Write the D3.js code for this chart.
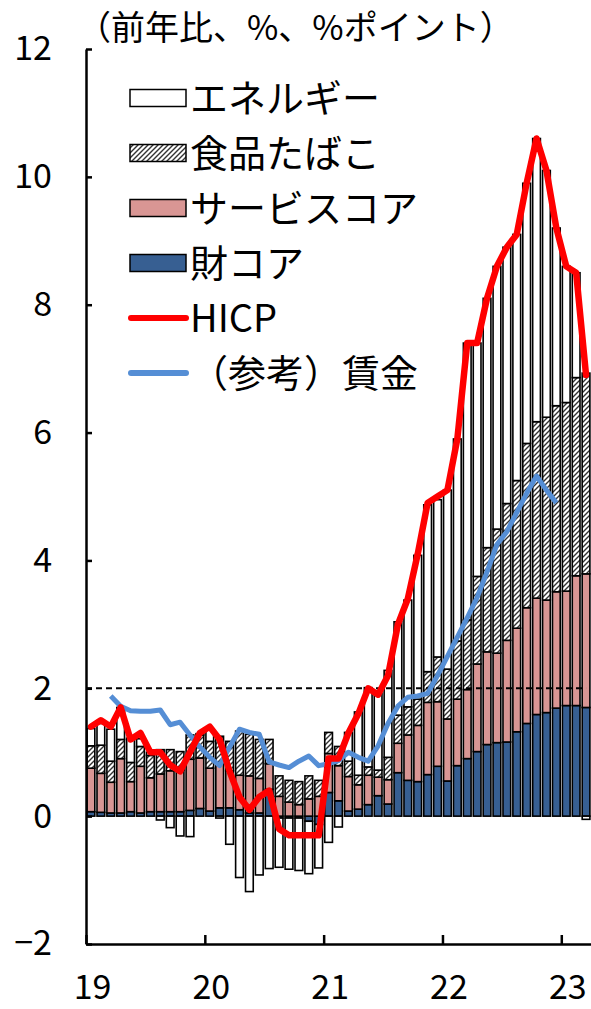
<!DOCTYPE html>
<html>
<head>
<meta charset="utf-8">
<script src="https://cdn.jsdelivr.net/npm/d3@7"></script>
<style>
  body { margin: 0; background: #fff; }
  text { font-family: "Noto Sans CJK JP", "Noto Sans", sans-serif; fill: #000; }
</style>
</head>
<body>
<div id="chart"></div>
<script>
// 2019/1 ～ 2023/3 の月次
const months = d3.timeMonth.range(new Date(2019, 0, 1), new Date(2023, 3, 1));
const yearLabels = ["19", "20", "21", "22", "23"];
const yTicks = [-2, 0, 2, 4, 6, 8, 10, 12];

// 寄与度（%ポイント）
const goodsCore = [
  0.07, 0.06, 0.05, 0.05, 0.07, 0.05, 0.07, 0.07, 0.07, 0.07, 0.09, 0.12,
  0.08, 0.13, 0.13, 0.10, 0.05, 0.05, 0.42, -0.03, -0.03, -0.03, -0.08, -0.13,
  0.37, 0.24, 0.08, 0.11, 0.18, 0.32, 0.19, 0.68, 0.56, 0.54, 0.65, 0.78,
  0.55, 0.79, 0.90, 1.01, 1.12, 1.15, 1.16, 1.32, 1.45, 1.59, 1.62, 1.69,
  1.73, 1.73, 1.70
];
const servicesCore = [
  0.68, 0.61, 0.48, 0.85, 0.47, 0.73, 0.53, 0.59, 0.64, 0.65, 0.80, 0.79,
  0.67, 0.72, 0.58, 0.54, 0.58, 0.54, 0.40, 0.31, 0.22, 0.18, 0.27, 0.31,
  0.61, 0.55, 0.54, 0.38, 0.46, 0.29, 0.38, 0.46, 0.71, 0.88, 1.13, 1.01,
  0.97, 1.04, 1.08, 1.37, 1.45, 1.40, 1.59, 1.62, 1.81, 1.82, 1.76, 1.82,
  1.79, 2.03, 2.09
];
const foodTobacco = [
  0.35, 0.44, 0.33, 0.30, 0.30, 0.31, 0.35, 0.38, 0.33, 0.29, 0.38, 0.36,
  0.42, 0.40, 0.46, 0.69, 0.65, 0.61, 0.38, 0.32, 0.34, 0.36, 0.36, 0.25,
  0.33, 0.30, 0.24, 0.15, 0.13, 0.11, 0.35, 0.44, 0.44, 0.41, 0.48, 0.70,
  0.78, 0.91, 1.09, 1.37, 1.63, 1.94, 2.14, 2.31, 2.57, 2.76, 2.86, 2.91,
  2.95, 3.10, 3.14
];
const energy = [
  0.27, 0.34, 0.50, 0.50, 0.38, 0.12, 0.05, -0.06, -0.18, -0.31, -0.32, 0.02,
  0.19, -0.03, -0.44, -0.96, -1.18, -0.92, -0.82, -0.77, -0.80, -0.82, -0.82, -0.68,
  -0.41, -0.17, 0.45, 0.99, 1.24, 1.20, 1.36, 1.46, 1.67, 2.25, 2.61, 2.46,
  2.80, 3.16, 4.33, 3.65, 3.90, 4.11, 4.01, 3.85, 4.07, 4.43, 3.86, 2.78,
  2.13, 1.64, -0.05
];
// 前年比（%）
const hicp = [
  1.4, 1.5, 1.4, 1.7, 1.2, 1.3, 1.0, 1.0, 0.8, 0.7, 1.0, 1.3,
  1.4, 1.2, 0.7, 0.3, 0.1, 0.3, 0.4, -0.2, -0.3, -0.3, -0.3, -0.3,
  0.9, 0.9, 1.3, 1.6, 2.0, 1.9, 2.2, 3.0, 3.4, 4.1, 4.9, 5.0,
  5.1, 5.9, 7.4, 7.4, 8.1, 8.6, 8.9, 9.1, 9.9, 10.6, 10.1, 9.2,
  8.6, 8.5, 6.9
];
const wages = [
  null, null, 1.88, 1.72, 1.65, 1.64, 1.64, 1.66, 1.43, 1.47, 1.27, 1.08,
  0.92, 0.79, 1.08, 1.36, 1.31, 1.28, 0.85, 0.80, 0.76, 0.86, 0.94, 0.79,
  0.82, 0.87, 1.00, 0.92, 0.86, 1.10, 1.45, 1.72, 1.86, 1.88, 1.92, 2.20,
  2.50, 2.80, 3.10, 3.42, 3.82, 4.25, 4.45, 4.75, 5.05, 5.32, 5.10, 4.90,
  null, null, null
];

const barKeys = ["goods", "services", "food", "energy"];
const legendItems = [
  { name: "エネルギー", type: "bar", key: "energy" },
  { name: "食品たばこ", type: "bar", key: "food" },
  { name: "サービスコア", type: "bar", key: "services" },
  { name: "財コア", type: "bar", key: "goods" },
  { name: "HICP", type: "line", color: "#ff0000" },
  { name: "（参考）賃金", type: "line", color: "#558ed5" }
];

function generateChart(width = 591, height = 1009) {
  const margin = { top: 49, right: 0, bottom: 65, left: 86 };
  const fills = {
    goods: "#375f92",
    services: "#d99694",
    food: "url(#hatch)",
    energy: "#ffffff"
  };

  document.getElementById("chart").innerHTML = "";
  const svg = d3
    .select("#chart")
    .append("svg")
    .attr("width", width)
    .attr("height", height);

  // 斜線パターン（食品たばこ）
  const pat = svg
    .append("defs")
    .append("pattern")
    .attr("id", "hatch")
    .attr("patternUnits", "userSpaceOnUse")
    .attr("width", 5)
    .attr("height", 5);
  pat.append("rect").attr("width", 5).attr("height", 5).attr("fill", "#fff");
  pat
    .append("path")
    .attr("d", "M-1,1 l2,-2 M0,5 l5,-5 M4,6 l2,-2")
    .attr("stroke", "#333")
    .attr("stroke-width", 1.4);

  const data = months.map((m, i) => ({
    date: m,
    goods: goodsCore[i],
    services: servicesCore[i],
    food: foodTobacco[i],
    energy: energy[i],
    hicp: hicp[i],
    wage: wages[i]
  }));

  const x = d3
    .scaleBand()
    .domain(d3.range(months.length))
    .range([margin.left, width - margin.right])
    .paddingInner(0.22)
    .paddingOuter(0.11);
  const xm = d3
    .scaleLinear()
    .domain([0, months.length])
    .range([margin.left, width - margin.right]);
  const y = d3
    .scaleLinear()
    .domain([-2, 12])
    .range([height - margin.bottom, margin.top]);

  const stacked = d3
    .stack()
    .keys(barKeys)
    .offset(d3.stackOffsetDiverging)(data);

  svg
    .append("g")
    .selectAll("g")
    .data(stacked)
    .enter()
    .append("g")
    .attr("fill", (s) => fills[s.key])
    .selectAll("rect")
    .data((s) => s)
    .enter()
    .append("rect")
    .attr("x", (d, i) => x(i))
    .attr("y", (d) => y(d[1]))
    .attr("width", x.bandwidth())
    .attr("height", (d) => Math.abs(y(d[0]) - y(d[1])))
    .attr("stroke", "#000")
    .attr("stroke-width", 1.6);

  // 2%ライン
  svg
    .append("line")
    .attr("x1", margin.left)
    .attr("x2", x(months.length - 1) + x.bandwidth() / 2)
    .attr("y1", y(2))
    .attr("y2", y(2))
    .attr("stroke", "#000")
    .attr("stroke-width", 2)
    .attr("stroke-dasharray", "6,4");

  const cx = (i) => x(i) + x.bandwidth() / 2;

  const wageLine = d3
    .line()
    .defined((d) => d.wage != null)
    .x((d, i) => cx(i))
    .y((d) => y(d.wage));
  svg
    .append("path")
    .datum(data)
    .attr("d", wageLine)
    .attr("fill", "none")
    .attr("stroke", "#558ed5")
    .attr("stroke-width", 5)
    .attr("stroke-linejoin", "round");

  const hicpLine = d3
    .line()
    .x((d, i) => cx(i))
    .y((d) => y(d.hicp));
  svg
    .append("path")
    .datum(data)
    .attr("d", hicpLine)
    .attr("fill", "none")
    .attr("stroke", "#ff0000")
    .attr("stroke-width", 6.5)
    .attr("stroke-linejoin", "round")
    .attr("stroke-linecap", "round");

  // 縦軸
  const yAxis = svg
    .append("g")
    .attr("transform", `translate(${margin.left},0)`)
    .call(
      d3.axisLeft(y).tickValues(yTicks).tickSize(-6).tickSizeOuter(0).tickPadding(34)
    );
  yAxis.selectAll("path, line").attr("stroke", "#000").attr("stroke-width", 2.5);
  yAxis
    .selectAll("text")
    .attr("font-size", 34)
    .attr("font-family", '"Noto Sans CJK JP", sans-serif');

  // 横軸
  const xAxis = svg
    .append("g")
    .attr("transform", `translate(0,${height - margin.bottom})`)
    .call(
      d3
        .axisBottom(xm)
        .tickValues([0, 12, 24, 36, 48])
        .tickFormat((d, i) => yearLabels[i])
        .tickSize(-9)
        .tickSizeOuter(0)
        .tickPadding(31)
    );
  xAxis.selectAll("path, line").attr("stroke", "#000").attr("stroke-width", 2.5);
  xAxis
    .selectAll("text")
    .attr("font-size", 34)
    .attr("font-family", '"Noto Sans CJK JP", sans-serif')
    .attr("x", 6);

  // 単位
  svg
    .append("text")
    .attr("x", 77)
    .attr("y", 40)
    .attr("font-size", 34)
    .text("（前年比、%、%ポイント）");

  // 凡例
  const legend = svg
    .append("g")
    .selectAll("g")
    .data(legendItems)
    .enter()
    .append("g")
    .attr("transform", (d, i) => `translate(0,${98 + i * 55})`);

  legend
    .filter((d) => d.type === "bar")
    .append("rect")
    .attr("x", 130)
    .attr("y", -8.5)
    .attr("width", 56)
    .attr("height", 17)
    .attr("fill", (d) => fills[d.key])
    .attr("stroke", "#000")
    .attr("stroke-width", 1.5);

  legend
    .filter((d) => d.type === "line")
    .append("line")
    .attr("x1", 131)
    .attr("x2", 186)
    .attr("stroke", (d) => d.color)
    .attr("stroke-width", 6)
    .attr("stroke-linecap", "round");

  legend
    .append("text")
    .attr("x", 190)
    .attr("dy", "0.36em")
    .attr("font-size", 38)
    .text((d) => d.name);
}

generateChart();
</script>
</body>
</html>
